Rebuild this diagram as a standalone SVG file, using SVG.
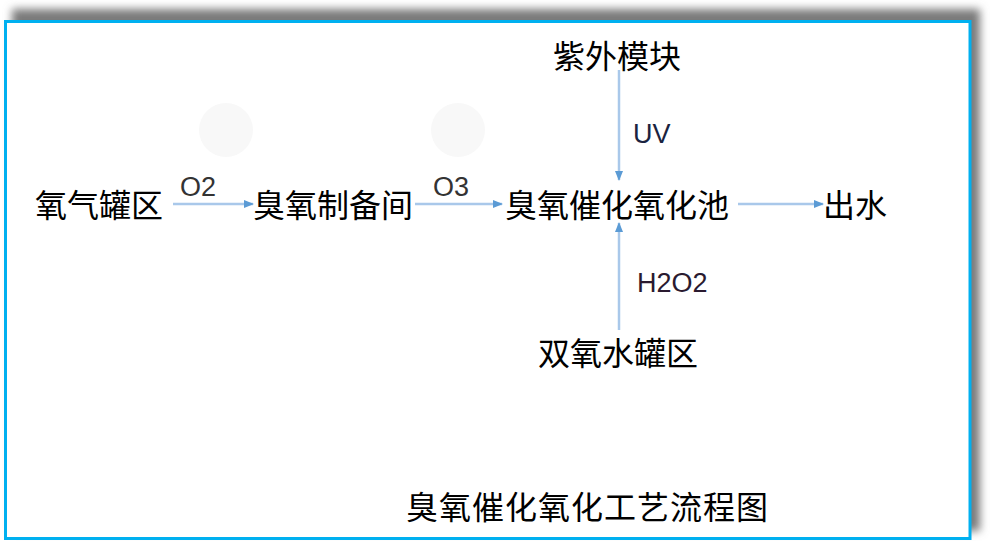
<svg xmlns="http://www.w3.org/2000/svg" width="994" height="544" viewBox="0 0 994 544">
<defs>
<filter id="sh" x="-5%" y="-10%" width="110%" height="120%"><feGaussianBlur stdDeviation="4"/></filter>
<marker id="ah" viewBox="0 0 10 10" refX="9" refY="5" markerWidth="4" markerHeight="4" orient="auto" markerUnits="strokeWidth"><path d="M0,1 L10,5 L0,9 z" fill="#5b9bd5"/></marker>
<style>
.cn{font-family:"Noto Sans CJK SC","Microsoft YaHei",sans-serif;font-size:32px;fill:#000}
.lb{font-family:"Liberation Sans",Arial,sans-serif;font-size:27px}
.ln{stroke:#a9c8ea;stroke-width:2.5;fill:none;marker-end:url(#ah)}
</style>
</defs>
<rect x="0" y="0" width="994" height="544" fill="#fff"/>
<rect x="12" y="9" width="968" height="522" fill="#7a7a7a" filter="url(#sh)"/>
<rect x="5.5" y="21.5" width="964.5" height="517" fill="#fff" stroke="#00b0f0" stroke-width="3"/>
<ellipse cx="226" cy="130" rx="27" ry="27" fill="#f8f8f8"/>
<ellipse cx="458" cy="130" rx="27" ry="27" fill="#f8f8f8"/>
<g id="connectors">
<line class="ln" x1="173" y1="204" x2="253" y2="204"/>
<line class="ln" x1="415" y1="204" x2="502" y2="204"/>
<line class="ln" x1="738" y1="204" x2="823" y2="204"/>
<line class="ln" x1="619" y1="70" x2="619" y2="180"/>
<line class="ln" x1="619" y1="330" x2="619" y2="223"/>
<text class="lb" x="180" y="196" fill="#333">O2</text>
<text class="lb" x="433" y="196" fill="#333">O3</text>
<text class="lb" x="633" y="143" fill="#1a2340">UV</text>
<text class="lb" x="637" y="292" fill="#2a1a30">H2O2</text>
</g>
<g id="n1"><text class="cn" x="35" y="217">氧气罐区</text></g>
<g id="n2"><text class="cn" x="253" y="217">臭氧制备间</text></g>
<g id="n3"><text class="cn" x="505" y="217">臭氧催化氧化池</text></g>
<g id="n4"><text class="cn" x="823" y="217">出水</text></g>
<g id="n5"><text class="cn" x="553" y="68">紫外模块</text></g>
<g id="n6"><text class="cn" x="538" y="365">双氧水罐区</text></g>
<g id="title"><text class="cn" x="406" y="519" letter-spacing="1">臭氧催化氧化工艺流程图</text></g>
</svg>
